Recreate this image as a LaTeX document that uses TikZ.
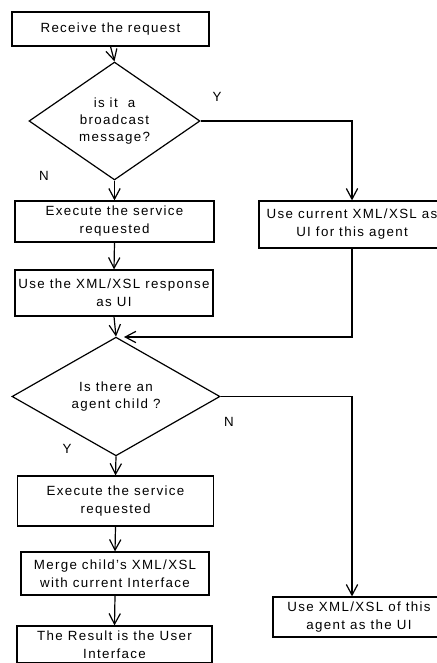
\documentclass[tikz,border=0pt]{standalone}
\usepackage{fontspec}
\setmainfont{Liberation Sans}[LetterSpace=10]
\usetikzlibrary{arrows.meta,shapes.geometric}

\tikzset{
  box/.style={draw, line width=0.9pt, inner sep=0pt, align=center, font=\fontsize{10}{13.5}\selectfont},
  decision/.style={diamond, draw, line width=0.9pt, inner sep=0pt, align=center, font=\fontsize{10}{13}\selectfont},
  flow/.style={line width=0.9pt, -{Straight Barb[length=8pt,width=8.5pt,line width=0.9pt]}},
  lbl/.style={font=\fontsize{10}{11}\selectfont, inner sep=0pt}
}

\begin{document}
\begin{tikzpicture}[x=0.75pt,y=0.75pt,yscale=-1,xscale=1]
\useasboundingbox (0,0) rectangle (436,663);

%Shape: Rectangle [id:req]
\node[box, minimum width=197*0.75pt, minimum height=34*0.75pt] (req) at (110.5,29) {Receive the request};
%Shape: Diamond [id:bcast]
\node[decision, minimum width=171*0.75pt, minimum height=107*0.75pt] (bcast) at (114.5,121) {is it\ \ a\\broadcast\\message?};
%Shape: Rectangle [id:exec1]
\node[box, minimum width=199*0.75pt, minimum height=41*0.75pt] (exec1) at (114.5,221.5) {Execute the service\\requested};
%Shape: Rectangle [id:cur]
\node[box, minimum width=186*0.75pt, minimum height=47*0.75pt] (cur) at (352,224.5) {Use current XML/XSL as\\UI for this agent};
%Shape: Rectangle [id:resp]
\node[box, minimum width=198*0.75pt, minimum height=46*0.75pt] (resp) at (114,293) {Use the XML/XSL response\\as UI};
%Shape: Diamond [id:child]
\node[decision, minimum width=208*0.75pt, minimum height=101*0.75pt] (child) at (116,396.5) {Is there an\\agent child ?};
%Shape: Rectangle [id:exec2]
\node[box, minimum width=196*0.75pt, minimum height=50*0.75pt] (exec2) at (115.5,501) {Execute the service\\requested};
%Shape: Rectangle [id:merge]
\node[box, minimum width=188*0.75pt, minimum height=43*0.75pt] (merge) at (115,573.5) {Merge child's XML/XSL\\with current Interface};
%Shape: Rectangle [id:result]
\node[box, minimum width=195*0.75pt, minimum height=37*0.75pt] (result) at (114.5,644.5) {The Result is the User\\Interface};
%Shape: Rectangle [id:agentui]
\node[box, minimum width=172*0.75pt, minimum height=40*0.75pt] (agentui) at (359,617) {Use XML/XSL of this\\agent as the UI};

\coordinate (join) at (124,337);

%Straight Lines
\draw[flow] (req.south) -- (bcast.north);
\draw[flow] (bcast.south) -- (exec1.north);
\draw[flow] (exec1.south) -- (resp.north);
\draw[flow] (resp.south) -- (child.north);
\draw[flow] (bcast.east) -| (cur.north);
\draw[flow] (cur.south) -- (cur.south |- join) -- (join);
\draw[flow] (child.east) -- (child.east -| cur.south) -- (cur.south |- agentui.north);
\draw[flow] (child.south) -- (exec2.north);
\draw[flow] (exec2.south) -- (merge.north);
\draw[flow] (merge.south) -- (result.north);

% Text Node
\node[lbl] (y1) at (217,97) {Y};
% Text Node
\node[lbl] (n1) at (44,176) {N};
% Text Node
\node[lbl] (n2) at (229,422) {N};
% Text Node
\node[lbl] (y2) at (67,449) {Y};
\end{tikzpicture}
\end{document}
